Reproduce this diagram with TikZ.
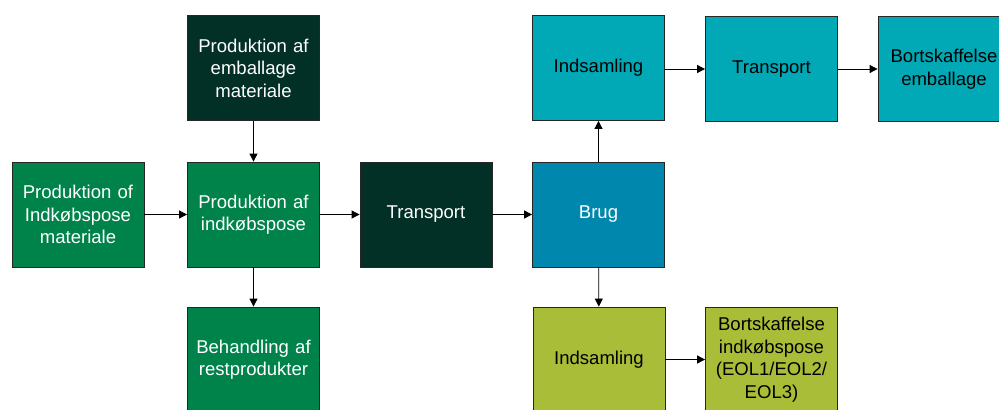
\documentclass[tikz,border=0pt]{standalone}
\usepackage{fontspec}
\setmainfont{Liberation Sans}
\usetikzlibrary{arrows.meta}
\definecolor{cgreen}{HTML}{00834A}
\definecolor{cdark}{HTML}{033026}
\definecolor{cblue}{HTML}{0087AE}
\definecolor{cteal}{HTML}{00A9B5}
\definecolor{colive}{HTML}{A9BD38}
\tikzset{
  box/.style={draw=black!85, line width=0.6pt, minimum width=99pt, minimum height=78.75pt,
    inner sep=2pt, align=center, text width=95pt,
    font=\fontsize{13.9pt}{16.9pt}\selectfont},
  gbox/.style={box, fill=cgreen, text=white},
  dbox/.style={box, fill=cdark, text=white},
  bbox/.style={box, fill=cblue, text=white},
  tbox/.style={box, fill=cteal, text=black},
  obox/.style={box, fill=colive, text=black},
  arr/.style={draw=black, line width=0.6pt, -{Triangle[length=6pt,width=6pt]}}
}
\begin{document}
\begin{tikzpicture}[x=0.75pt,y=-0.75pt]
\useasboundingbox (0,0) rectangle (999,410);
\clip (0,0) rectangle (999,410);
\node[gbox] (pim) at (78,214.5) {Produktion of\\Indkøbspose\\materiale};
\node[gbox] (pai) at (253.5,214.5) {Produktion af\\indkøbspose};
\node[dbox] (pem) at (253.5,68) {Produktion af\\emballage\\materiale};
\node[gbox] (beh) at (253.5,359.5) {Behandling af\\restprodukter};
\node[dbox] (tr1) at (426,214.5) {Transport};
\node[bbox] (brug) at (598.5,214.5) {Brug};
\node[tbox] (ind1) at (598.5,68) {Indsamling};
\node[tbox] (tr2) at (771.5,69) {Transport};
\node[tbox] (bem) at (944,69) {Bortskaffelse\\emballage};
\node[obox] (ind2) at (599,359.5) {Indsamling};
\node[obox] (bik) at (771.5,359.5) {Bortskaffelse\\indkøbspose\\(EOL1/EOL2/\\EOL3)};
\draw[arr] (pim) -- (pai);
\draw[arr] (pem) -- (pai);
\draw[arr] (pai) -- (beh);
\draw[arr] (pai) -- (tr1);
\draw[arr] (tr1) -- (brug);
\draw[arr] (brug) -- (ind1);
\draw[arr] (brug) -- (ind2);
\draw[arr] (ind1.east |- tr2) -- (tr2);
\draw[arr] (tr2) -- (bem);
\draw[arr] (ind2) -- (bik);
\end{tikzpicture}
\end{document}
